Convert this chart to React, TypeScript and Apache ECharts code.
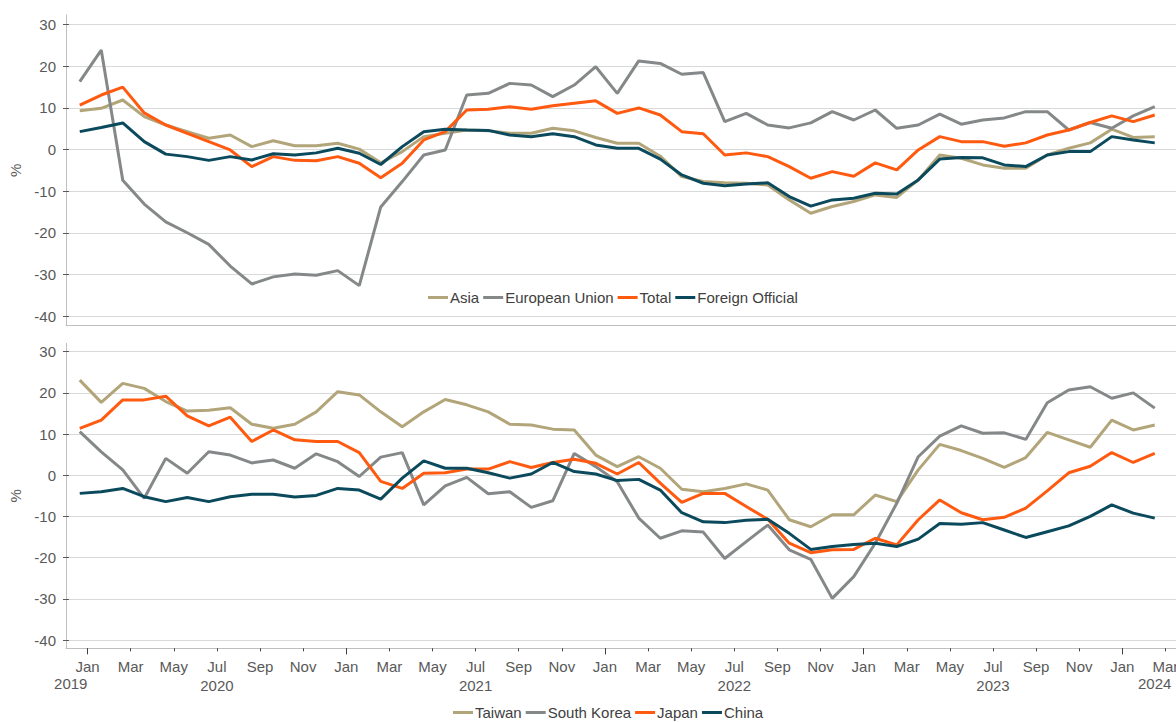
import React, { useEffect, useRef } from 'react';
import * as echarts from 'echarts';

// Monthly bands (data categories): Dec 2019 .. Mar 2024
const months = [
  '2019-12',
  '2020-01', '2020-02', '2020-03', '2020-04', '2020-05', '2020-06', '2020-07', '2020-08', '2020-09', '2020-10', '2020-11', '2020-12',
  '2021-01', '2021-02', '2021-03', '2021-04', '2021-05', '2021-06', '2021-07', '2021-08', '2021-09', '2021-10', '2021-11', '2021-12',
  '2022-01', '2022-02', '2022-03', '2022-04', '2022-05', '2022-06', '2022-07', '2022-08', '2022-09', '2022-10', '2022-11', '2022-12',
  '2023-01', '2023-02', '2023-03', '2023-04', '2023-05', '2023-06', '2023-07', '2023-08', '2023-09', '2023-10', '2023-11', '2023-12',
  '2024-01', '2024-02', '2024-03',
];
// Month boundaries (start of each month), used for tick labels
const monthStarts = [...months, '2024-04'];
const monthNames = ['Jan', 'Feb', 'Mar', 'Apr', 'May', 'Jun', 'Jul', 'Aug', 'Sep', 'Oct', 'Nov', 'Dec'];
const yearLabelMonths = ['2019-12', '2024-02'];

// Top panel
const asia = [9.3, 9.9, 11.9, 7.9, 5.9, 4.3, 2.7, 3.5, 0.7, 2.1, 0.9, 0.9, 1.5, 0.1, -3.2, -0.5, 3.1, 3.9, 4.7, 4.5, 3.9, 3.9, 5.1, 4.5, 2.9, 1.5, 1.5, -1.6, -6.5, -7.7, -8.0, -8.1, -8.5, -12.1, -15.3, -13.7, -12.5, -10.9, -11.5, -7.3, -1.3, -2.1, -3.7, -4.5, -4.5, -1.3, 0.3, 1.6, 4.9, 2.9, 3.1];
const europeanUnion = [16.3, 23.9, -7.4, -13.1, -17.4, -20.0, -22.8, -28.0, -32.3, -30.6, -29.9, -30.2, -29.1, -32.7, -13.8, -7.7, -1.3, -0.1, 13.1, 13.5, 15.9, 15.5, 12.7, 15.5, 19.9, 13.5, 21.3, 20.7, 18.1, 18.5, 6.7, 8.7, 5.9, 5.2, 6.4, 9.1, 7.1, 9.5, 5.1, 5.9, 8.5, 6.1, 7.1, 7.6, 9.1, 9.1, 4.7, 6.5, 5.1, 8.1, 10.3];
const total = [10.7, 13.1, 15.0, 8.8, 5.9, 3.9, 1.9, -0.1, -4.1, -1.7, -2.6, -2.7, -1.7, -3.3, -6.8, -3.3, 2.3, 4.3, 9.5, 9.7, 10.3, 9.7, 10.5, 11.1, 11.7, 8.7, 10.0, 8.3, 4.3, 3.8, -1.3, -0.8, -1.7, -4.1, -6.9, -5.3, -6.4, -3.2, -4.9, -0.1, 3.1, 1.9, 1.9, 0.8, 1.6, 3.5, 4.7, 6.5, 8.1, 6.7, 8.3];
const foreignOfficial = [4.3, 5.3, 6.4, 1.9, -1.1, -1.7, -2.6, -1.7, -2.5, -1.0, -1.3, -0.8, 0.3, -0.9, -3.6, 0.7, 4.3, 4.9, 4.7, 4.6, 3.5, 3.1, 3.8, 3.1, 1.1, 0.3, 0.3, -2.3, -6.1, -8.1, -8.7, -8.3, -8.0, -11.3, -13.6, -12.1, -11.7, -10.5, -10.7, -7.3, -2.3, -1.9, -2.0, -3.7, -4.1, -1.3, -0.5, -0.5, 3.1, 2.3, 1.6];

// Bottom panel
const taiwan = [23.1, 17.7, 22.3, 21.1, 17.9, 15.6, 15.8, 16.4, 12.4, 11.4, 12.4, 15.4, 20.3, 19.5, 15.4, 11.8, 15.4, 18.4, 17.1, 15.4, 12.4, 12.2, 11.2, 11.0, 4.9, 2.1, 4.5, 1.7, -3.4, -4.0, -3.2, -2.1, -3.6, -10.8, -12.5, -9.6, -9.6, -4.8, -6.4, 1.3, 7.5, 6.0, 4.1, 1.9, 4.3, 10.4, 8.6, 6.8, 13.4, 11.0, 12.2];
const southKorea = [10.6, 5.7, 1.3, -5.6, 4.1, 0.5, 5.7, 4.9, 3.0, 3.7, 1.7, 5.2, 3.3, -0.3, 4.4, 5.5, -7.2, -2.6, -0.5, -4.5, -4.0, -7.8, -6.2, 5.3, 2.1, -1.6, -10.4, -15.3, -13.5, -13.8, -20.2, -16.1, -12.1, -18.1, -20.4, -29.9, -24.6, -16.5, -6.8, 4.5, 9.5, 12.0, 10.2, 10.3, 8.7, 17.6, 20.7, 21.5, 18.7, 20.0, 16.3];
const japan = [11.4, 13.4, 18.3, 18.3, 19.2, 14.4, 12.0, 14.1, 8.2, 11.0, 8.6, 8.2, 8.2, 5.5, -1.5, -3.2, 0.5, 0.6, 1.5, 1.5, 3.3, 1.9, 3.1, 3.9, 2.9, 0.3, 3.1, -1.9, -6.6, -4.4, -4.4, -7.6, -10.7, -16.5, -18.8, -18.1, -18.0, -15.3, -16.9, -10.8, -6.0, -9.1, -10.8, -10.2, -8.0, -3.8, 0.6, 2.2, 5.5, 3.1, 5.3];
const china = [-4.4, -4.0, -3.2, -5.2, -6.4, -5.4, -6.4, -5.2, -4.6, -4.6, -5.3, -4.9, -3.2, -3.6, -5.8, -0.7, 3.5, 1.7, 1.7, 0.6, -0.7, 0.3, 3.1, 0.9, 0.3, -1.3, -1.0, -3.6, -9.1, -11.3, -11.5, -10.9, -10.7, -14.1, -18.0, -17.3, -16.8, -16.5, -17.3, -15.5, -11.7, -11.9, -11.5, -13.3, -15.1, -13.7, -12.3, -10.0, -7.2, -9.2, -10.4];

const topNames = ['Asia', 'European Union', 'Total', 'Foreign Official'];
const bottomNames = ['Taiwan', 'South Korea', 'Japan', 'China'];

const COLORS = { tan: '#B3A57A', gray: '#858889', orange: '#FF5A10', teal: '#0B4A5C' };
const FONT = 'Liberation Sans, Arial, sans-serif';
const LABEL_COLOR = '#595959';
const AXIS_LINE = '#BFBFBF';
const GRID_LINE = '#D9D9D9';

const isOddMonth = (v: string) => parseInt(v.slice(5), 10) % 2 === 1;
const isJan = (v: string) => v.slice(5) === '01';

function frameY(gridIndex: number) {
  return {
    type: 'value', gridIndex, min: 0, max: 1,
    axisLine: { show: true, lineStyle: { color: AXIS_LINE, width: 1 } },
    axisTick: { show: false }, axisLabel: { show: false }, splitLine: { show: false },
  };
}

function dataY(gridIndex: number) {
  return {
    type: 'value', gridIndex, min: -40, max: 30, interval: 10,
    axisLine: { show: false },
    axisTick: { show: true, length: 6, lineStyle: { color: '#595959' } },
    axisLabel: { color: LABEL_COLOR, fontSize: 15, fontFamily: FONT, margin: 13 },
    splitLine: { show: true, lineStyle: { color: GRID_LINE, width: 1 } },
    name: '%', nameLocation: 'middle', nameGap: 46, nameRotate: 90,
    nameTextStyle: { color: LABEL_COLOR, fontSize: 15, fontFamily: FONT },
  };
}

function line(name: string, data: number[], color: string, xAxisIndex: number, yAxisIndex: number) {
  return {
    type: 'line', name, data, xAxisIndex, yAxisIndex,
    symbol: 'none', lineStyle: { color, width: 3 }, itemStyle: { color },
    emphasis: { disabled: true },
  };
}

function legend(names: string[], left: number, top: number) {
  return {
    data: names, left, top, icon: 'rect', itemWidth: 20, itemHeight: 3, itemGap: 4,
    textStyle: { color: '#404040', fontSize: 15, fontFamily: FONT, padding: [0, 0, 0, -3] },
  };
}

export default function App() {
  const ref = useRef<HTMLDivElement>(null);
  useEffect(() => {
    if (!ref.current) return;
    const chart = echarts.init(ref.current, undefined, { renderer: 'svg' });
    const L = 66;
    const R = 1;
    chart.setOption({
      animation: false,
      backgroundColor: '#ffffff',
      textStyle: { fontFamily: FONT },
      grid: [
        { left: L, right: R, top: 15, height: 310 },
        { left: L, right: R, top: 24.7, height: 291.3 },
        { left: L, right: R, top: 343.3, height: 305 },
        { left: L, right: R, top: 351.7, height: 288.3 },
      ],
      xAxis: [
        // 0: top frame line
        {
          type: 'category', gridIndex: 0, boundaryGap: false, data: monthStarts, position: 'bottom',
          axisLine: { show: true, lineStyle: { color: AXIS_LINE } },
          axisTick: { show: false }, axisLabel: { show: false }, splitLine: { show: false },
        },
        // 1: top data axis
        { type: 'category', gridIndex: 1, boundaryGap: true, data: months, show: false },
        // 2: bottom month labels + short ticks
        {
          type: 'category', gridIndex: 2, boundaryGap: false, data: monthStarts, position: 'bottom',
          axisLine: { show: true, lineStyle: { color: AXIS_LINE } },
          axisTick: { show: true, length: 3, interval: (_i: number, v: string) => isOddMonth(v), lineStyle: { color: '#404040' } },
          axisLabel: {
            show: true, interval: (_i: number, v: string) => isOddMonth(v),
            formatter: (v: string) => {
              const m = parseInt(v.slice(5), 10);
              const name = monthNames[m - 1];
              return m === 7 ? name + '\n' + v.slice(0, 4) : name;
            },
            color: LABEL_COLOR, fontSize: 15, fontFamily: FONT, lineHeight: 19, margin: 9,
          },
          splitLine: { show: false },
        },
        // 3: bottom long ticks at January
        {
          type: 'category', gridIndex: 2, boundaryGap: false, data: monthStarts, position: 'bottom',
          axisLine: { show: false },
          axisTick: { show: true, length: 6, interval: (_i: number, v: string) => isJan(v), lineStyle: { color: '#404040' } },
          axisLabel: { show: false }, splitLine: { show: false },
        },
        // 4: partial-year labels
        {
          type: 'category', gridIndex: 2, boundaryGap: true, data: months, position: 'bottom',
          axisLine: { show: false }, axisTick: { show: false }, splitLine: { show: false },
          axisLabel: {
            show: true, interval: 0, margin: 28,
            formatter: (v: string) => {
              if (!yearLabelMonths.includes(v)) return '';
              return v === yearLabelMonths[0] ? '{a|' + v.slice(0, 4) + '}' : '{b|' + v.slice(0, 4) + '}';
            },
            rich: {
              a: { color: LABEL_COLOR, fontSize: 15, fontFamily: FONT, padding: [0, 12, 0, 0] },
              b: { color: LABEL_COLOR, fontSize: 15, fontFamily: FONT },
            },
          },
        },
        // 5: bottom data axis
        { type: 'category', gridIndex: 3, boundaryGap: true, data: months, show: false },
      ],
      yAxis: [frameY(0), dataY(1), frameY(2), dataY(3)],
      legend: [legend(topNames, 423, 285), legend(bottomNames, 448, 700)],
      series: [
        line(topNames[0], asia, COLORS.tan, 1, 1),
        line(topNames[1], europeanUnion, COLORS.gray, 1, 1),
        line(topNames[2], total, COLORS.orange, 1, 1),
        line(topNames[3], foreignOfficial, COLORS.teal, 1, 1),
        line(bottomNames[0], taiwan, COLORS.tan, 5, 3),
        line(bottomNames[1], southKorea, COLORS.gray, 5, 3),
        line(bottomNames[2], japan, COLORS.orange, 5, 3),
        line(bottomNames[3], china, COLORS.teal, 5, 3),
      ],
    });
    return () => chart.dispose();
  }, []);
  return (
    <div style={{ position: 'absolute', left: 0, top: 0, width: 1176, height: 722, overflow: 'hidden' }}>
      <div ref={ref} style={{ width: 1188, height: 722 }} />
    </div>
  );
}
